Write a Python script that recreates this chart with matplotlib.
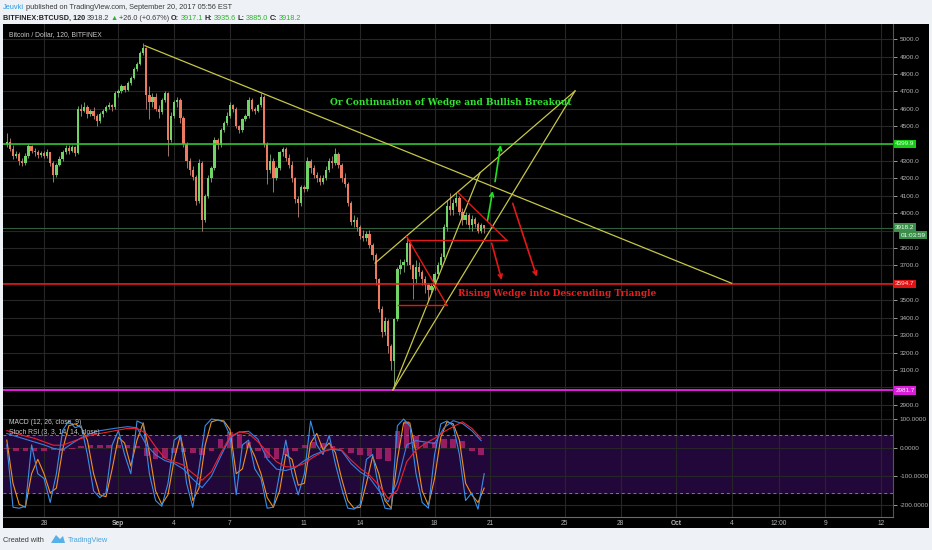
import numpy as np
import matplotlib.pyplot as plt
from matplotlib.patches import Rectangle, Polygon
from matplotlib.transforms import Affine2D

plt.rcParams['font.family'] = ['Liberation Sans', 'DejaVu Sans']

# ---- BTCUSD 4h bars, x in days after Aug 28 2017 00:00 ----
bar_t0 = -2.0
bar_dt = 1 / 6
open_0 = 4400
closes = [
    4410, 4370, 4330, 4340, 4300, 4290,
    4330, 4385, 4360, 4350, 4335, 4345,
    4330, 4350, 4290, 4220, 4280, 4310,
    4350, 4375, 4360, 4380, 4345, 4600,
    4590, 4610, 4570, 4590, 4560, 4530,
    4570, 4590, 4610, 4620, 4610, 4690,
    4700, 4730, 4710, 4750, 4780, 4830,
    4860, 4920, 4950, 4680, 4640, 4670,
    4600, 4580, 4650, 4690, 4420, 4560,
    4640, 4650, 4550, 4400, 4300, 4250,
    4210, 4070, 4290, 3960, 4100, 4200,
    4260, 4420, 4390, 4480, 4520, 4560,
    4620, 4600, 4500, 4480, 4540, 4560,
    4650, 4600, 4590, 4620, 4670, 4400,
    4250, 4300, 4200, 4260, 4350, 4370,
    4320, 4280, 4200, 4080, 4060, 4150,
    4140, 4300, 4260, 4220, 4200, 4180,
    4200, 4250, 4300, 4290, 4340, 4280,
    4200, 4170, 4060, 3950, 3960, 3920,
    3870, 3860, 3880, 3820, 3760, 3620,
    3450, 3320, 3380, 3240, 3150, 3390,
    3680, 3700, 3720, 3830, 3700, 3620,
    3690, 3660, 3620, 3590, 3560, 3580,
    3650, 3700, 3750, 3920, 4040, 4020,
    4060, 4090, 4010, 3960, 3990, 3930,
    3970, 3940, 3900, 3930, 3918.2,
]
highs = [
    4460, 4430, 4390, 4360, 4350, 4320,
    4345, 4400, 4395, 4375, 4365, 4360,
    4360, 4370, 4355, 4300, 4290, 4330,
    4365, 4390, 4390, 4395, 4385, 4615,
    4630, 4640, 4620, 4600, 4610, 4570,
    4580, 4600, 4625, 4640, 4630, 4700,
    4715, 4745, 4740, 4760, 4790, 4840,
    4870, 4930, 4980, 4955, 4730, 4690,
    4690, 4620, 4660, 4700, 4695, 4580,
    4650, 4670, 4660, 4560, 4410, 4320,
    4270, 4220, 4310, 4300, 4110, 4220,
    4270, 4440, 4430, 4490, 4530, 4580,
    4640, 4630, 4610, 4510, 4550, 4570,
    4670, 4660, 4610, 4630, 4690, 4680,
    4410, 4340, 4320, 4270, 4360, 4380,
    4380, 4340, 4300, 4210, 4100, 4160,
    4160, 4325, 4310, 4280, 4240, 4220,
    4220, 4270, 4320, 4330, 4375, 4350,
    4290, 4230, 4180, 4070, 3990, 3980,
    3930, 3905, 3900, 3905, 3830, 3770,
    3630, 3470, 3405, 3390, 3250, 3400,
    3690, 3735, 3740, 3866, 3840, 3710,
    3733, 3720, 3675, 3640, 3600, 3600,
    3660, 3720, 3770, 3940, 4075, 4117,
    4080, 4117, 4100, 4030, 4010, 4000,
    3990, 3980, 3950, 3945, 3935.6,
]
lows = [
    4380, 4360, 4310, 4320, 4280, 4270,
    4280, 4320, 4345, 4330, 4320, 4325,
    4315, 4320, 4270, 4180, 4210, 4270,
    4300, 4340, 4340, 4350, 4330, 4340,
    4560, 4580, 4550, 4560, 4540, 4500,
    4520, 4555, 4580, 4600, 4590, 4600,
    4670, 4690, 4695, 4700, 4740, 4770,
    4820, 4850, 4910, 4600, 4540, 4610,
    4590, 4550, 4570, 4640, 4330, 4410,
    4550, 4610, 4520, 4380, 4260, 4220,
    4190, 4050, 4060, 3900, 3950, 4090,
    4180, 4250, 4370, 4380, 4470, 4510,
    4550, 4580, 4490, 4460, 4470, 4530,
    4550, 4590, 4570, 4580, 4610, 4380,
    4170, 4230, 4120, 4190, 4250, 4330,
    4300, 4260, 4180, 4060, 3980, 4040,
    4120, 4130, 4230, 4200, 4180, 4160,
    4170, 4190, 4240, 4260, 4280, 4260,
    4180, 4150, 4040, 3930, 3920, 3900,
    3850, 3840, 3840, 3800, 3730, 3590,
    3430, 3290, 3300, 3195, 3100, 2981.7,
    3380, 3650, 3660, 3700, 3680, 3510,
    3600, 3640, 3590, 3540, 3500, 3540,
    3560, 3630, 3690, 3740, 3900, 3990,
    3990, 4040, 3990, 3930, 3940, 3910,
    3900, 3920, 3885, 3885, 3885,
]

# ---- Stoch RSI (8h samples) ----
stoch_t0 = -2.0
stoch_dt = 1 / 3
stoch_k = [70, 5, 4, 6, 70, 40, 35, 10, 40, 85, 95, 88, 90, 60, 22, 15, 20, 70,
           85, 60, 40, 95, 92, 40, 12, 6, 30, 75, 80, 30, 5, 45, 90, 97, 96, 94,
           80, 18, 70, 75, 45, 35, 4, 5, 40, 75, 40, 18, 40, 95, 70, 60, 80, 50,
           25, 4, 3, 8, 55, 60, 25, 4, 3, 90, 97, 90, 40, 10, 4, 60, 92, 95,
           90, 60, 12, 20, 3, 40]
stoch_d = [75, 30, 8, 5, 40, 55, 40, 20, 25, 65, 90, 92, 88, 75, 40, 18, 16, 45,
           78, 72, 48, 75, 93, 62, 22, 8, 18, 55, 80, 50, 12, 25, 70, 94, 96, 95,
           86, 40, 45, 72, 58, 40, 15, 5, 22, 60, 55, 28, 30, 72, 82, 65, 72, 62,
           35, 12, 4, 5, 30, 58, 40, 12, 4, 55, 93, 93, 62, 22, 7, 35, 78, 94,
           92, 75, 30, 18, 10, 25]

# ---- MACD 12,26,9 (12h samples) ----
macd_t0 = -2.0
macd_dt = 0.5
macd_line = [50, 40, 30, 20, 10, -2, -8, 15, 35, 50, 60, 65, 70, 74, 70, 10, -25,
             -45, -55, -75, -110, -140, -100, -30, 35, 55, 58, 30, -40, -75, -80,
             -70, -45, -25, -12, -5, -10, -55, -85, -105, -150, -190, -120, 10, 25,
             20, 15, 70, 95, 85, 60, 25]
macd_signal = [60, 50, 41, 33, 21, 9, 9, 21, 33, 44, 50, 56, 62, 68, 68, 50, 3,
               -37, -49, -61, -90, -114, -84, -20, 39, 56, 50, 21, -14, -49, -67,
               -67, -55, -32, -14, -2, -8, -43, -73, -96, -131, -178, -149, -49, -8,
               15, 33, 56, 74, 91, 68, 33]
macd_hist = [-5, -10, -12, -12, -10, -8, -12, -5, 5, 8, 10, 10, 10, 8, 5, -30, -40,
             -35, -20, -15, -20, -25, -10, 30, 55, 50, 20, -10, -35, -40, -25, -10,
             10, 20, 15, 5, -5, -20, -25, -30, -40, -45, 60, 95, 40, 15, 20, 30, 30,
             25, -10, -25]

# ---- levels ----
level_green = 4399.9
level_red = 3594.7
level_magenta = 2981.7
last_price = 3918.2

# ---- drawings as (day, price) ----
yellow_lines = [
    [(5.43, 4963), (36.97, 3598)],
    [(17.80, 3714), (28.55, 4703)],
    [(18.76, 2985), (28.55, 4703)],
    [(18.76, 2985), (23.44, 4232)],
]
red_lines = [
    [(19.50, 3866), (21.65, 3474)],
    [(19.03, 3474), (21.65, 3474)],
    [(19.50, 3845), (24.88, 3845)],
    [(22.27, 4118), (24.88, 3845)],
]
green_arrows = [[(23.85, 3961), (24.12, 4128)], [(24.25, 4182), (24.55, 4393)]]
red_arrows = [[(24.07, 3828), (24.61, 3617)], [(25.20, 4057), (26.49, 3636)]]
note_bull = ('Or Continuation of Wedge and Bullish Breakout', 15.38, 4634)
note_bear = ('Rising Wedge into Descending Triangle', 22.26, 3539)

# ---- axis labels ----
date_ticks = [0, 4, 7, 10, 14, 17, 21, 24, 28, 31, 34, 37, 39.5, 42, 45]
date_labels = ['28', 'Sep', '4', '7', '11', '14', '18', '21', '25', '28', 'Oct',
               '4', '12:00', '9', '12']
price_ticks = list(range(2900, 5001, 100))
covered_price_ticks = [4400, 3900, 3600, 3000]   # hidden behind the level boxes
macd_ticks = [100, 0, -100, -200]

W, H = 932, 550
fig = plt.figure(figsize=(W / 100, H / 100), dpi=100)
fig.patch.set_facecolor('#eef1f5')


def fx(p):
    return p / W


def fy(p):
    return 1 - p / H


fig.add_artist(Rectangle((fx(3), fy(528)), fx(929) - fx(3), fy(24) - fy(528),
                         transform=fig.transFigure, facecolor='black',
                         edgecolor='none', zorder=-10))

ax = fig.add_axes([fx(3), fy(411), fx(893) - fx(3), fy(24) - fy(411)], facecolor='black')
axm = fig.add_axes([fx(3), fy(517), fx(893) - fx(3), fy(411) - fy(517)], facecolor='black')
xlim = (-2.204, 45.645)
grid_c = '#262626'
lab_c = '#b4b4b4'

for a in (ax, axm):
    a.set_xlim(*xlim)
    a.set_xticks(date_ticks)
    a.grid(True, color=grid_c, lw=0.8)
    a.set_axisbelow(True)
    a.yaxis.tick_right()
    for s in ('left', 'top'):
        a.spines[s].set_visible(False)
    a.spines['right'].set_color('#555555')
    a.spines['bottom'].set_color('#6a6a6a')
    a.tick_params(colors=lab_c, labelsize=4.6, length=3, width=0.6, pad=2)
ax.tick_params(axis='x', length=0, labelbottom=False)
axm.tick_params(axis='x', length=0, pad=2.5, labelsize=4.8)
axm.set_xticklabels(date_labels)
for lbl in axm.get_xticklabels():
    if lbl.get_text() in ('Sep', 'Oct'):
        lbl.set_fontweight('bold')

# price panel
ax.set_ylim(2863.8, 5087.9)
ax.set_yticks(price_ticks)
ax.set_yticklabels(['' if p in covered_price_ticks else '%.1f' % p for p in price_ticks])

t = bar_t0 + bar_dt * np.arange(len(closes))
c = np.array(closes, float)
o = np.r_[open_0, c[:-1]]
up = c >= o
body_c = ['#71d466' if u else '#ec7b5f' for u in up]
wick_c = ['#7fae78' if u else '#b9877c' for u in up]
ax.vlines(t, lows, highs, colors=wick_c, lw=0.6, zorder=2)
ax.bar(t, np.maximum(np.abs(c - o), 4), bottom=np.minimum(o, c), width=0.12,
       color=body_c, linewidth=0, zorder=3)

ax.axhline(last_price, color='#2f5f3c', lw=0.8, zorder=1)
ax.axhline(level_green, color='#2fd02f', lw=1.1, zorder=4)
ax.axhline(level_red, color='#ee1c1c', lw=1.1, zorder=4)
ax.axhline(level_magenta, color='#e21ee2', lw=1.4, zorder=4)

for (x0, y0), (x1, y1) in yellow_lines:
    ax.plot([x0, x1], [y0, y1], color='#c6c648', lw=0.9, zorder=5)
for (x0, y0), (x1, y1) in red_lines:
    ax.plot([x0, x1], [y0, y1], color='#e41818', lw=1.0, zorder=5)
for (x0, y0), (x1, y1) in green_arrows:
    ax.annotate('', xy=(x1, y1), xytext=(x0, y0),
                arrowprops=dict(arrowstyle='->', color='#22e022', lw=1.2,
                                mutation_scale=7, shrinkA=0, shrinkB=0), zorder=6)
for (x0, y0), (x1, y1) in red_arrows:
    ax.annotate('', xy=(x1, y1), xytext=(x0, y0),
                arrowprops=dict(arrowstyle='->', color='#e41818', lw=1.2,
                                mutation_scale=7, shrinkA=0, shrinkB=0), zorder=6)

ax.text(note_bull[1], note_bull[2], note_bull[0], color='#2ee62e', fontsize=6.5,
        fontweight='bold', family='DejaVu Serif', va='center', ha='left', zorder=7)
ax.text(note_bear[1], note_bear[2], note_bear[0], color='#e81c1c', fontsize=6.5,
        fontweight='bold', family='DejaVu Serif', va='center', ha='left', zorder=7)

ax.text(0.0067, 0.974, 'Bitcoin / Dollar, 120, BITFINEX', transform=ax.transAxes,
        color='#c8c8c8', fontsize=4.9, va='center', ha='left')

ytr = ax.get_yaxis_transform()
for val, bg, fg in [(level_green, '#17cc17', '#eaffea'), (level_red, '#e01414', '#ffe6e6'),
                    (level_magenta, '#d81ed8', '#ffe8ff'), (last_price, '#3b8f4a', '#f0fff0')]:
    ax.text(1.0025, val, '%.1f' % val, transform=ytr, color=fg, fontsize=4.6,
            va='center', ha='left', zorder=8, clip_on=False,
            bbox=dict(boxstyle='square,pad=0.25', fc=bg, ec='none'))
ax.annotate('01:03:59', xy=(1.0025, last_price), xycoords=ytr, xytext=(4, -5.6),
            textcoords='offset points', color='#f0fff0', fontsize=4.6, va='center',
            ha='left', annotation_clip=False, zorder=8,
            bbox=dict(boxstyle='square,pad=0.25', fc='#3b8f4a', ec='none'))

# lower panel: MACD + Stoch RSI overlay
axm.set_ylim(-243, 129)
axm.set_yticks(macd_ticks)
axm.set_yticklabels(['%.4f' % v for v in macd_ticks])
axm.spines['top'].set_visible(False)
stoch_tr = Affine2D().scale(1, 3.365).translate(0, -225.6) + axm.transData
axm.fill_between(xlim, [20, 20], [80, 80], color='#22083a', transform=stoch_tr,
                 zorder=0.5)
for lvl in (20, 80):
    axm.plot(xlim, [lvl, lvl], color='#7a7a8a', lw=0.7, ls=(0, (3, 3)),
             transform=stoch_tr, zorder=0.6)

mt = macd_t0 + macd_dt * np.arange(len(macd_line))
axm.bar(mt, macd_hist, width=0.3, color='#d6287a', alpha=0.65, linewidth=0, zorder=2)
st = stoch_t0 + stoch_dt * np.arange(len(stoch_k))
axm.plot(st, stoch_d, color='#f0901e', lw=0.8, transform=stoch_tr, zorder=3)
axm.plot(st, stoch_k, color='#3a8ee8', lw=0.8, transform=stoch_tr, zorder=3)
axm.plot(mt, macd_line, color='#3a7ee0', lw=0.8, zorder=4)
axm.plot(mt, macd_signal, color='#f02030', lw=0.8, zorder=4)

axm.text(0.0067, 0.89, 'MACD (12, 26, close, 9)', transform=axm.transAxes,
         color='#c8c8c8', fontsize=4.9, va='center', ha='left', zorder=6)
axm.text(0.0067, 0.80, 'Stoch RSI (3, 3, 14, 14, close)', transform=axm.transAxes,
         color='#c8c8c8', fontsize=4.9, va='center', ha='left', zorder=6)


# header lines, written piece by piece
def text_run(x_px, y_px, pieces, size):
    r = fig.canvas.get_renderer()
    x = x_px
    for s, col, wt in pieces:
        tx = fig.text(fx(x), fy(y_px), s, color=col, fontsize=size, fontweight=wt,
                      va='baseline', ha='left')
        x = tx.get_window_extent(r).x1 + 1.5


dark = '#3a3a3a'
grn = '#28b428'
text_run(3, 9, [('Jeuvki', '#2a9be0', 'normal'),
                ('published on TradingView.com, September 20, 2017 05:56 EST', dark, 'normal')], 5.3)
text_run(3, 20, [('BITFINEX:BTCUSD, 120', '#222222', 'bold'),
                 ('3918.2', dark, 'normal'), ('\u25b2', grn, 'normal'),
                 ('+26.0 (+0.67%)', dark, 'normal'),
                 ('O:', '#222222', 'bold'), ('3917.1', grn, 'normal'),
                 ('H:', '#222222', 'bold'), ('3935.6', grn, 'normal'),
                 ('L:', '#222222', 'bold'), ('3885.0', grn, 'normal'),
                 ('C:', '#222222', 'bold'), ('3918.2', grn, 'normal')], 5.2)

# footer
fig.text(fx(3), fy(540), 'Created with', color=dark, fontsize=5.3, va='center', ha='left')
fig.add_artist(Polygon([(fx(51), fy(543)), (fx(56), fy(535)), (fx(60), fy(539)),
                        (fx(63), fy(536)), (fx(65), fy(543))], closed=True,
                       transform=fig.transFigure, fc='#58b0e6', ec='none'))
fig.text(fx(68), fy(540), 'TradingView', color='#4aa3e0', fontsize=5.3, va='center', ha='left')

fig.savefig('out.png', dpi=100, facecolor=fig.get_facecolor())
